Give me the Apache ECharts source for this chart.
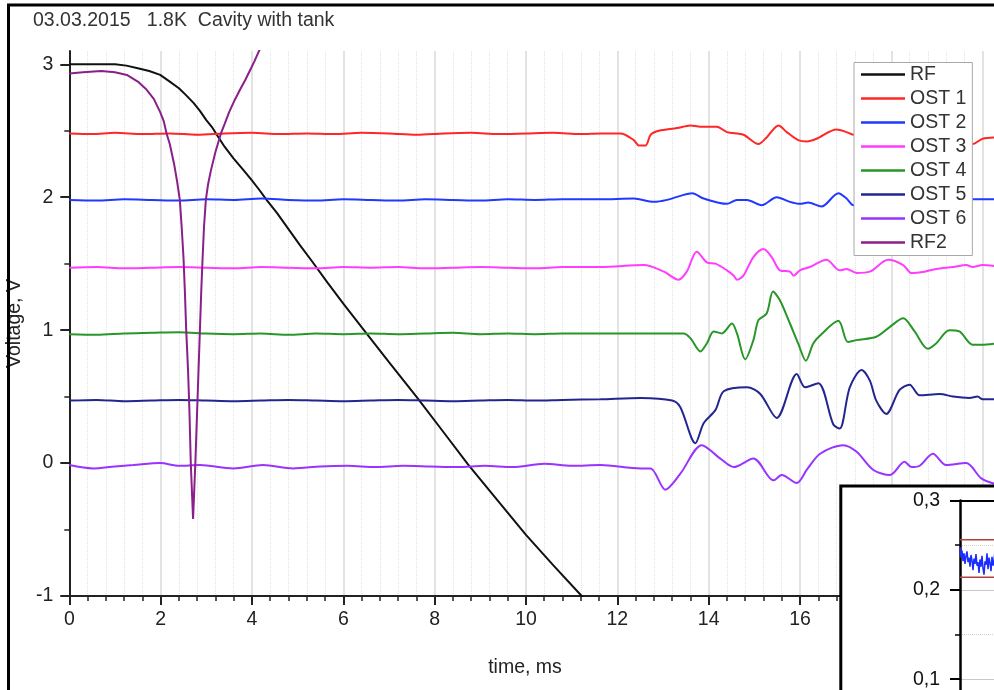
<!DOCTYPE html>
<html><head><meta charset="utf-8">
<script src="https://cdn.jsdelivr.net/npm/echarts@6/dist/echarts.min.js"></script>
<style>html,body{margin:0;padding:0;background:#fff}#c{width:994px;height:690px}</style>
</head><body><div id="c"></div>
<script>
// ---------- DATA ----------
const titleText = '03.03.2015   1.8K  Cavity with tank';
const xName = 'time, ms';
const yName = 'Voltage, V';
const seriesNames = ['RF', 'OST 1', 'OST 2', 'OST 3', 'OST 4', 'OST 5', 'OST 6', 'RF2'];
const yTicks = [-1, 0, 1, 2, 3];
const yMinorTicks = [-0.5, 0.5, 1.5, 2.5];
const insetTicks = [0.1, 0.2, 0.3];

const rf = [[0,3.00],[0.5,3.00],[1.0,3.00],[1.25,2.99],[1.5,2.97],[1.75,2.95],[1.99,2.92],[2.2,2.87],[2.4,2.82],[2.55,2.77],[2.72,2.71],[2.86,2.65],[3.0,2.58],[3.12,2.53],[3.23,2.47],[3.4,2.38],[3.6,2.29],[3.8,2.21],[3.99,2.13],[4.15,2.06],[4.32,1.98],[4.55,1.88],[4.8,1.76],[5.05,1.64],[5.31,1.52],[5.65,1.36],[6.0,1.20],[6.52,0.97],[7.0,0.76],[7.6,0.50],[8.2,0.23],[8.73,-0.01],[9.4,-0.29],[10.0,-0.54],[10.6,-0.77],[11.22,-1.00],[11.3,-1.03]];

const rf2 = [[0,2.93],[0.3,2.94],[0.7,2.95],[1.0,2.94],[1.26,2.92],[1.5,2.87],[1.69,2.81],[1.85,2.74],[1.99,2.64],[2.07,2.57],[2.13,2.48],[2.2,2.40],[2.3,2.24],[2.36,2.12],[2.42,1.98],[2.46,1.78],[2.5,1.55],[2.53,1.30],[2.56,1.00],[2.6,0.70],[2.63,0.40],[2.66,0.00],[2.71,-0.42],[2.76,0.00],[2.8,0.40],[2.83,0.70],[2.86,1.00],[2.89,1.30],[2.92,1.55],[2.95,1.78],[2.99,1.98],[3.04,2.10],[3.1,2.20],[3.2,2.34],[3.32,2.48],[3.4,2.55],[3.5,2.64],[3.62,2.73],[3.74,2.81],[3.85,2.88],[3.95,2.95],[4.05,3.02],[4.14,3.09],[4.3,3.2]];

const ost1 = [[0,2.48],[0.5,2.475],[1.0,2.485],[1.6,2.475],[2.2,2.48],[2.8,2.47],[3.4,2.48],[4.0,2.485],[4.6,2.475],[5.2,2.48],[5.8,2.475],[6.4,2.485],[7.0,2.48],[7.6,2.47],[8.2,2.48],[8.8,2.485],[9.4,2.475],[10.0,2.48],[10.6,2.485],[11.2,2.475],[11.63,2.48],[12.07,2.48],[12.36,2.43],[12.47,2.39],[12.62,2.39],[12.73,2.47],[12.91,2.50],[13.31,2.52],[13.6,2.54],[13.82,2.53],[14.18,2.53],[14.40,2.49],[14.76,2.47],[15.09,2.40],[15.27,2.45],[15.53,2.54],[15.71,2.49],[15.96,2.43],[16.15,2.42],[16.36,2.44],[16.80,2.51],[17.02,2.49],[17.17,2.47],[17.6,2.47],[18.2,2.46],[18.8,2.45],[19.4,2.43],[19.78,2.40],[20.0,2.44],[20.3,2.45]];

const ost2 = [[0,1.98],[0.6,1.975],[1.2,1.985],[1.8,1.98],[2.4,1.975],[3.0,1.985],[3.6,1.98],[4.2,1.99],[4.8,1.98],[5.4,1.975],[6.0,1.985],[6.6,1.98],[7.2,1.975],[7.8,1.985],[8.4,1.98],[9.0,1.975],[9.6,1.985],[10.2,1.98],[10.8,1.985],[11.63,1.985],[12.36,1.99],[12.8,1.965],[13.09,1.98],[13.38,2.01],[13.64,2.03],[13.89,1.99],[14.40,1.95],[14.62,1.98],[14.84,1.98],[15.16,1.94],[15.49,2.00],[15.78,1.965],[16.0,1.95],[16.18,1.96],[16.47,1.93],[16.84,2.03],[17.02,1.99],[17.17,1.94],[17.6,1.96],[18.5,1.98],[19.5,1.985],[19.86,1.985],[20.3,1.985]];

const ost3 = [[0,1.47],[0.6,1.475],[1.2,1.465],[1.8,1.47],[2.4,1.475],[3.0,1.47],[3.6,1.465],[4.2,1.475],[4.8,1.47],[5.4,1.465],[6.0,1.475],[6.6,1.47],[7.2,1.475],[7.8,1.465],[8.4,1.47],[9.0,1.475],[9.6,1.47],[10.2,1.465],[10.8,1.475],[11.63,1.475],[12.58,1.49],[13.02,1.44],[13.34,1.38],[13.52,1.44],[13.74,1.59],[13.96,1.51],[14.15,1.50],[14.40,1.45],[14.55,1.41],[14.62,1.38],[14.76,1.41],[14.98,1.55],[15.2,1.61],[15.38,1.55],[15.56,1.45],[15.78,1.44],[15.86,1.41],[16.0,1.45],[16.22,1.475],[16.58,1.53],[16.87,1.45],[17.02,1.46],[17.24,1.43],[17.53,1.44],[17.93,1.53],[18.26,1.49],[18.44,1.43],[18.73,1.44],[18.98,1.46],[19.35,1.475],[19.64,1.49],[19.78,1.475],[20.0,1.49],[20.3,1.48]];

const ost4 = [[0,0.97],[0.6,0.965],[1.2,0.975],[1.8,0.98],[2.4,0.985],[3.0,0.975],[3.6,0.97],[4.2,0.975],[4.8,0.965],[5.4,0.975],[6.0,0.97],[6.6,0.975],[7.2,0.97],[7.8,0.975],[8.4,0.98],[9.0,0.97],[9.6,0.975],[10.2,0.97],[10.8,0.975],[11.63,0.975],[13.45,0.975],[13.6,0.94],[13.82,0.84],[13.96,0.90],[14.11,0.99],[14.29,0.975],[14.51,1.05],[14.62,0.975],[14.80,0.78],[14.98,0.925],[15.09,1.075],[15.27,1.125],[15.41,1.29],[15.56,1.225],[15.78,1.05],[15.96,0.90],[16.13,0.77],[16.29,0.90],[16.44,0.96],[16.84,1.07],[17.05,0.91],[17.24,0.925],[17.67,0.95],[17.97,1.025],[18.26,1.09],[18.51,0.99],[18.80,0.86],[18.98,0.90],[19.27,1.00],[19.49,0.99],[19.78,0.89],[19.97,0.89],[20.3,0.90]];

const ost5 = [[0,0.47],[0.6,0.475],[1.2,0.465],[1.8,0.47],[2.4,0.475],[3.0,0.47],[3.6,0.465],[4.2,0.47],[4.8,0.475],[5.4,0.47],[6.0,0.465],[6.6,0.47],[7.2,0.475],[7.8,0.47],[8.4,0.465],[9.0,0.47],[9.6,0.475],[10.2,0.47],[10.8,0.475],[11.63,0.48],[12.51,0.49],[13.2,0.47],[13.38,0.42],[13.71,0.15],[13.89,0.30],[14.15,0.40],[14.33,0.54],[14.84,0.57],[15.13,0.52],[15.49,0.34],[15.93,0.67],[16.11,0.57],[16.40,0.60],[16.73,0.29],[16.87,0.26],[17.09,0.57],[17.35,0.70],[17.53,0.62],[17.67,0.47],[17.89,0.37],[18.18,0.55],[18.40,0.59],[18.62,0.51],[19.06,0.52],[19.35,0.50],[19.71,0.49],[19.89,0.50],[20.0,0.48],[20.3,0.48]];

const ost6 = [[0,-0.015],[0.52,-0.04],[1.0,-0.025],[1.4,-0.015],[1.99,0.0],[2.4,-0.02],[2.86,-0.015],[3.59,-0.04],[4.24,-0.015],[4.9,-0.04],[5.5,-0.025],[6.1,-0.02],[6.7,-0.03],[7.3,-0.02],[7.9,-0.025],[8.5,-0.03],[9.1,-0.02],[9.7,-0.03],[10.4,-0.005],[11.0,-0.02],[11.63,-0.015],[12.51,-0.04],[12.73,-0.04],[13.05,-0.20],[13.38,-0.08],[13.85,0.135],[14.25,0.035],[14.55,-0.03],[14.98,0.035],[15.42,-0.13],[15.60,-0.09],[15.93,-0.15],[16.15,-0.05],[16.44,0.07],[16.95,0.135],[17.24,0.085],[17.60,-0.05],[17.97,-0.09],[18.29,0.01],[18.44,-0.03],[18.62,-0.02],[18.91,0.07],[19.20,-0.015],[19.64,0.0],[19.97,-0.115],[20.3,-0.16]];

const insetNoise = [0.248,0.236,0.244,0.232,0.241,0.229,0.238,0.243,0.231,0.236,0.226,0.239,0.233,0.222,0.235,0.229,0.240,0.227,0.231,0.219,0.234,0.226,0.238,0.224,0.217,0.232,0.228,0.241,0.223,0.236,0.230,0.221,0.237,0.227,0.233,0.244,0.229,0.235,0.225,0.238,0.231];
const insetBoxTop = 0.256;
const insetBoxBottom = 0.214;

// ---------- STYLE ----------
const FONT = '"Liberation Sans", Arial, sans-serif';
const colors = ['#111111', '#ff2626', '#2038ff', '#ff3cff', '#289628', '#22268e', '#9933ff', '#8a1f8a'];
const mainData = [rf, ost1, ost2, ost3, ost4, ost5, ost6, rf2];
const insetCats = insetNoise.map((_, i) => String(i));

const chart = echarts.init(document.getElementById('c'), null, {renderer: 'canvas'});

const mainSeries = mainData.map((d, i) => ({
  name: seriesNames[i],
  type: 'line',
  xAxisIndex: 0, yAxisIndex: 0,
  data: d,
  symbol: 'none',
  smooth: (i === 0 || i === 7) ? false : 0.3,
  lineStyle: {color: colors[i], width: 2},
  itemStyle: {color: colors[i]},
  z: 2,
  animation: false
}));

const option = {
  animation: false,
  backgroundColor: '#ffffff',
  textStyle: {fontFamily: FONT},
  grid: [
    {left: 69.3, top: 51, width: 1004.7, height: 545, containLabel: false, outerBoundsMode: 'none'},
    {left: 960, top: 500.5, width: 40, height: 268, containLabel: false, outerBoundsMode: 'none'}
  ],
  xAxis: [
    {
      gridIndex: 0, type: 'value', min: 0, max: 22, interval: 2,
      axisLine: {show: true, onZero: false, lineStyle: {color: '#222', width: 2}},
      axisTick: {show: true, inside: false, length: 9, lineStyle: {color: '#222', width: 2}},
      minorTick: {show: true, splitNumber: 5, length: 5, lineStyle: {color: '#222', width: 1.5}},
      axisLabel: {color: '#222', fontSize: 19.5, fontFamily: FONT, margin: 14},
      splitLine: {show: true, lineStyle: {color: '#dadada', width: 1.5}},
      minorSplitLine: {show: true, lineStyle: {color: '#e2e2e2', width: 1, type: 'dotted'}},
      z: 1
    },
    {
      gridIndex: 1, type: 'category', data: insetCats, boundaryGap: false, position: 'top',
      axisLine: {show: true, onZero: false, lineStyle: {color: '#000', width: 2}},
      axisTick: {show: false}, axisLabel: {show: false}, splitLine: {show: false},
      z: 60
    }
  ],
  yAxis: [
    {
      gridIndex: 0, type: 'value', min: -1, max: 3.1, interval: 1,
      name: yName, nameLocation: 'middle', nameRotate: 90, nameGap: 42,
      nameTextStyle: {color: '#222', fontSize: 19.5, fontFamily: FONT},
      axisLine: {show: true, onZero: false, lineStyle: {color: '#222', width: 2}},
      axisTick: {show: true, length: 9, customValues: yTicks, lineStyle: {color: '#222', width: 2}},
      axisLabel: {color: '#222', fontSize: 19.5, fontFamily: FONT, margin: 16, customValues: yTicks},
      splitLine: {show: false},
      z: 1
    },
    {
      gridIndex: 0, type: 'value', min: -1, max: 3.1, position: 'left', offset: 0,
      axisLine: {show: false},
      axisTick: {show: true, length: 5, customValues: yMinorTicks, lineStyle: {color: '#222', width: 1.5}},
      axisLabel: {show: false}, splitLine: {show: false},
      z: 1
    },
    {
      gridIndex: 1, type: 'value', min: 0, max: 0.3, interval: 0.1,
      axisLine: {show: true, onZero: false, lineStyle: {color: '#000', width: 2.5}},
      axisTick: {show: true, length: 10, lineStyle: {color: '#000', width: 2}},
      minorTick: {show: true, splitNumber: 2, length: 5, lineStyle: {color: '#000', width: 1.5}},
      axisLabel: {color: '#111', fontSize: 19.5, fontFamily: FONT, margin: 20,
        customValues: insetTicks,
        formatter: v => v.toFixed(1).replace('.', ',')},
      splitLine: {show: true, lineStyle: {color: '#c8c8c8', width: 1}},
      minorSplitLine: {show: true, lineStyle: {color: '#cfcfcf', width: 1, type: 'dotted'}},
      z: 60
    }
  ],
  legend: {
    data: seriesNames,
    orient: 'vertical',
    left: 854, top: 62.5,
    padding: [2, 6, 3, 7],
    icon: 'rect',
    itemWidth: 44, itemHeight: 2.5, itemGap: 4,
    backgroundColor: '#ffffff',
    borderColor: '#a8a8a8', borderWidth: 1,
    textStyle: {color: '#333', fontSize: 19.5, fontFamily: FONT, lineHeight: 20},
    z: 10
  },
  graphic: [
    {type: 'rect', z: 100, shape: {x: 8.5, y: 5, width: 1200, height: 900},
      style: {fill: 'none', stroke: '#000', lineWidth: 3}, silent: true},
    {type: 'text', z: 100, left: 33, top: 11,
      style: {text: titleText, fill: '#333', font: '19.5px ' + FONT}},
    {type: 'text', z: 100, x: 525, y: 668,
      style: {text: xName, fill: '#222', font: '19.5px ' + FONT, textAlign: 'center', textVerticalAlign: 'middle'}},
    {type: 'rect', z: 50, shape: {x: 840.8, y: 486, width: 400, height: 400},
      style: {fill: '#ffffff', stroke: '#000', lineWidth: 3}, silent: true}
  ],
  series: mainSeries.concat([
    {name: 'inset', type: 'line', xAxisIndex: 1, yAxisIndex: 2, data: insetNoise,
      symbol: 'none', lineStyle: {color: '#1a2cff', width: 1.5}, z: 60, animation: false},
    {name: 'boxTop', type: 'line', xAxisIndex: 1, yAxisIndex: 2, data: insetNoise.map(() => insetBoxTop),
      symbol: 'none', lineStyle: {color: '#b04040', width: 1.5}, z: 61, animation: false},
    {name: 'boxBottom', type: 'line', xAxisIndex: 1, yAxisIndex: 2, data: insetNoise.map(() => insetBoxBottom),
      symbol: 'none', lineStyle: {color: '#b04040', width: 1.5}, z: 61, animation: false}
  ])
};
chart.setOption(option);
</script></body></html>
